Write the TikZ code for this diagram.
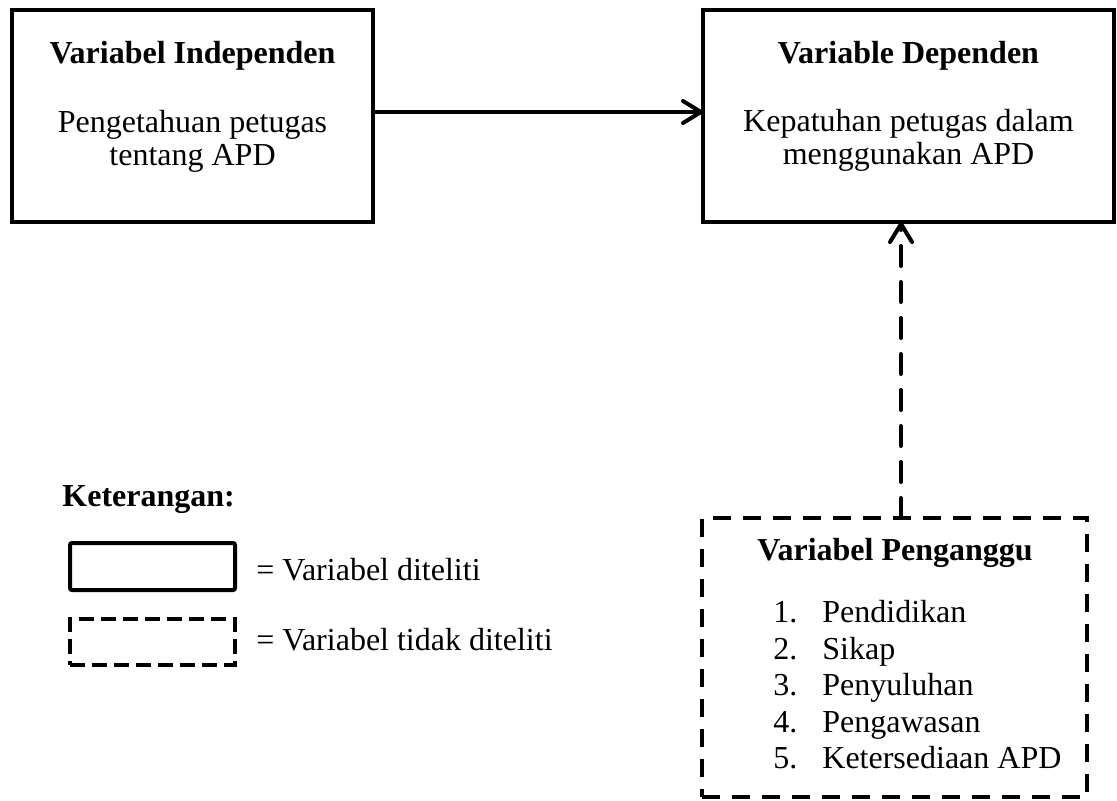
\documentclass[tikz,border=0pt]{standalone}
\usepackage{fontspec}
\setmainfont{Liberation Serif}
\usetikzlibrary{arrows.meta}
\begin{document}
\begin{tikzpicture}[x=0.5pt,y=-0.5pt,
  every node/.style={font=\fontsize{16}{16.5}\selectfont},
  box/.style={draw, line width=2pt, inner sep=0pt, outer sep=0pt},
  dbox/.style={box, dash pattern=on 9pt off 6pt},
  txt/.style={inner sep=0pt, anchor=base},
  ltxt/.style={inner sep=0pt, anchor=base west},
  ttl/.style={txt, font=\fontsize{16}{16.5}\selectfont\bfseries},
  arr/.style={line width=2pt, line cap=round, -{Straight Barb[length=9pt,width=11pt,round]}}
]
\useasboundingbox (0,0) rectangle (1117,800);

% main boxes
\node[box, minimum width=180.5pt, minimum height=106pt] (b1) at (192.5,116) {};
\node[box, minimum width=205.5pt, minimum height=106pt] (b2) at (908.5,116) {};
\node[dbox, minimum width=192.5pt, minimum height=139.5pt] (pg) at (894.5,657.5) {};

% legend boxes
\node[box, rounded corners=1pt, minimum width=82.5pt, minimum height=23.5pt] (ls) at (152.5,566.5) {};
\node[box, dash pattern=on 7.5pt off 3.5pt, minimum width=82.5pt, minimum height=23pt] (ld) at (152.5,642) {};

% texts in box 1
\node[ttl] (t1) at (192.5,63) {Variabel Independen};
\node[txt] (t1a) at (192.5,132) {Pengetahuan petugas};
\node[txt] (t1b) at (192.5,165) {tentang APD};

% texts in box 2
\node[ttl] (t2) at (908.5,63) {Variable Dependen};
\node[txt] (t2a) at (908.5,131) {Kepatuhan petugas dalam};
\node[txt] (t2b) at (908.5,164) {menggunakan APD};

% texts in dashed box
\node[ttl] (t3) at (895,560) {Variabel Penganggu};
\node[ltxt] (n1) at (773,622.5) {1.};
\node[ltxt] (i1) at (822,622.5) {Pendidikan};
\node[ltxt] (n2) at (773,659) {2.};
\node[ltxt] (i2) at (822,659) {Sikap};
\node[ltxt] (n3) at (773,695.5) {3.};
\node[ltxt] (i3) at (822,695.5) {Penyuluhan};
\node[ltxt] (n4) at (773,732) {4.};
\node[ltxt] (i4) at (822,732) {Pengawasan};
\node[ltxt] (n5) at (773,768.5) {5.};
\node[ltxt] (i5) at (822,768.5) {Ketersediaan APD};

% legend texts
\node[ltxt, font=\fontsize{16}{16.5}\selectfont\bfseries] (ket) at (62,506) {Keterangan:};
\node[ltxt] (l1) at (256,580) {= Variabel diteliti};
\node[ltxt] (l2) at (256,650) {= Variabel tidak diteliti};

% connectors
\draw[arr] ([yshift=2pt]b1.east) -- ([yshift=2pt]b2.west);
\coordinate (ax) at (901,0);
\draw[arr, dash pattern=on 10pt off 8pt] (pg.north -| ax) -- (b2.south -| ax);
\end{tikzpicture}
\end{document}
